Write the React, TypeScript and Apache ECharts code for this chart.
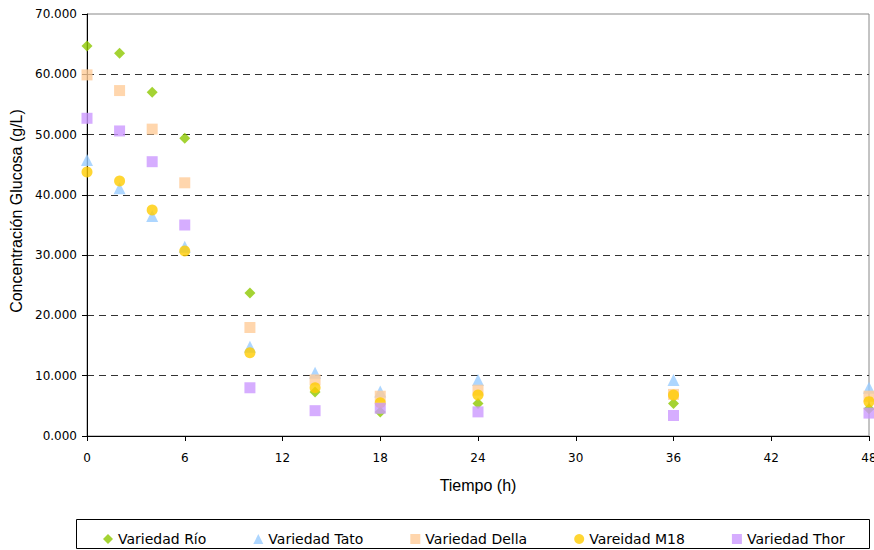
import React, { useEffect, useRef } from "react";
import * as echarts from "echarts";

const times = [0, 2, 4, 6, 10, 14, 18, 24, 36, 48];
const rio = [64.7, 63.5, 57.0, 49.4, 23.7, 7.3, 4.0, 5.4, 5.4, 4.5];
const tato = [45.8, 41.1, 36.5, 31.4, 14.8, 10.5, 7.4, 9.3, 9.3, 8.0];
const della = [59.9, 57.3, 50.9, 42.0, 18.0, 9.3, 6.6, 7.6, 6.9, 6.6];
const m18 = [43.8, 42.3, 37.5, 30.7, 13.8, 8.0, 5.5, 6.8, 6.8, 5.7];
const thor = [52.7, 50.6, 45.5, 35.0, 8.0, 4.2, 4.6, 4.0, 3.4, 3.8];

const seriesNames = ["Variedad Río", "Variedad Tato", "Variedad Della", "Vareidad M18", "Variedad Thor"];
const seriesData = [rio, tato, della, m18, thor];
const colors = ["#8dc800", "#99ccff", "#ffcc99", "#ffcc00", "#cc99ff"];
const symbols = ["diamond", "triangle", "rect", "circle", "rect"];
const sizes = [11, 12, 11, 11, 11];

export default function App() {
  const ref = useRef<HTMLDivElement>(null);
  useEffect(() => {
    if (!ref.current) return;
    const chart = echarts.init(ref.current, undefined, { renderer: "svg" });
    chart.setOption({
      animation: false,
      backgroundColor: "#ffffff",
      grid: {
        left: 87,
        top: 14,
        right: 5,
        bottom: 114,
        show: true,
        borderColor: "#888888",
        borderWidth: 1,
        containLabel: false,
        outerBoundsMode: "none",
      },
      xAxis: {
        type: "value",
        min: 0,
        max: 48,
        interval: 6,
        name: "Tiempo (h)",
        nameLocation: "middle",
        nameGap: 41,
        nameTextStyle: { fontFamily: "Liberation Sans", fontSize: 16, color: "#000" },
        axisLine: { show: true, onZero: false, lineStyle: { color: "#000", width: 1 } },
        axisTick: { show: true, inside: false, length: 5, lineStyle: { color: "#000" } },
        axisLabel: { fontFamily: "DejaVu Sans", fontSize: 12, color: "#000", margin: 16 },
        splitLine: { show: false },
      },
      yAxis: {
        type: "value",
        min: 0,
        max: 70,
        interval: 10,
        name: "Concentración Glucosa (g/L)",
        nameLocation: "middle",
        nameGap: 60,
        nameTextStyle: {
          fontFamily: "Liberation Sans",
          fontSize: 16,
          color: "#000",
          padding: [0, 0, 0, 28],
        },
        axisLine: { show: true, lineStyle: { color: "#000", width: 1 } },
        axisTick: { show: true, inside: false, length: 5, lineStyle: { color: "#000" } },
        axisLabel: {
          fontFamily: "DejaVu Sans",
          fontSize: 12,
          color: "#000",
          margin: 10,
          formatter: (v: number) => v.toFixed(3),
        },
        splitLine: {
          show: true,
          showMinLine: false,
          showMaxLine: false,
          lineStyle: { color: "#333", type: [7, 5], width: 1 },
        },
      },
      legend: {
        left: 98,
        top: 527,
        itemWidth: 10,
        itemHeight: 10,
        itemGap: 47,
        textStyle: { fontFamily: "DejaVu Sans", fontSize: 14, color: "#000" },
        data: seriesNames.map((n, i) => ({ name: n, icon: symbols[i] })),
      },
      graphic: [
        {
          type: "rect",
          shape: { x: 76.5, y: 519.5, width: 793, height: 29 },
          style: { fill: "none", stroke: "#000", lineWidth: 1 },
          silent: true,
        },
      ],
      series: seriesNames.map((n, i) => ({
        name: n,
        type: "scatter",
        symbol: symbols[i],
        symbolSize: sizes[i],
        itemStyle: { color: colors[i] },
        data: times.map((t, j) => [t, seriesData[i][j]]),
        clip: false,
      })),
    });
    return () => chart.dispose();
  }, []);
  return <div ref={ref} style={{ width: 874, height: 550, position: "absolute", left: 0, top: 0 }} />;
}
